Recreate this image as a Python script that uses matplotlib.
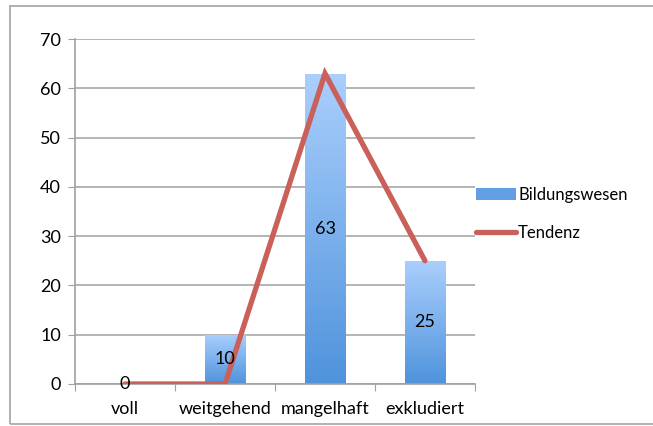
import numpy as np
import matplotlib
matplotlib.use("Agg")
from matplotlib import pyplot as plt
from matplotlib.patches import Rectangle
from matplotlib.lines import Line2D

categories = ["voll", "weitgehend", "mangelhaft", "exkludiert"]
bildungswesen = [0, 10, 63, 25]
tendenz = [0, 0, 63, 25]
yticks = [0, 10, 20, 30, 40, 50, 60, 70]

plt.rcParams['font.family'] = ['Lato', 'DejaVu Sans']

fig = plt.figure(figsize=(6.53, 4.26), dpi=100)
ax = fig.add_axes([75 / 653, 42 / 426, 400 / 653, 345 / 426])

# figure border (runs off the right edge like the original)
fig.patches.append(Rectangle((10 / 653, 2 / 426), 660 / 653, 418 / 426, transform=fig.transFigure,
                             fill=False, edgecolor="#b0b0b0", linewidth=1.4))

x = np.arange(len(categories))
bars = ax.bar(x, bildungswesen, width=0.41, color="none", zorder=2)

# vertical gradient per bar, light at the top, darker at the bottom
grad = np.linspace(0, 1, 256).reshape(-1, 1)
cmap = matplotlib.colors.LinearSegmentedColormap.from_list("g", ["#4f93dc", "#aacffd"])
for b in bars:
    h = b.get_height()
    if h <= 0:
        continue
    im = ax.imshow(grad, cmap=cmap, aspect="auto", origin="lower",
                   extent=[b.get_x(), b.get_x() + b.get_width(), 0, h], zorder=2)
    im.set_clip_path(b)

ax.plot(x, tendenz, color="#c9605a", linewidth=3.8, solid_capstyle="round",
        solid_joinstyle="miter", zorder=3)

for xi, v in zip(x, bildungswesen):
    ax.text(xi, v / 2, str(v), ha="center", va="center", fontsize=13, zorder=4)

ax.set_xlim(-0.5, 3.5)
ax.set_ylim(0, 70)
ax.set_yticks(yticks)
ax.set_xticks(np.arange(-0.5, 4, 1))
ax.set_xticklabels([])
ax.set_xticks(x, minor=True)
ax.set_xticklabels(categories, minor=True, fontsize=13)
ax.tick_params(axis="x", which="minor", length=0, pad=12)
ax.tick_params(axis="x", which="major", length=5, color="#a0a0a0", direction="out")
ax.tick_params(axis="y", length=5, color="#a0a0a0", labelsize=13, pad=5)
ax.grid(axis="y", color="#a8a8a8", linewidth=1.2, zorder=0)
ax.set_axisbelow(True)
for s in ["top", "right"]:
    ax.spines[s].set_visible(False)
for s in ["left", "bottom"]:
    ax.spines[s].set_color("#a0a0a0")
    ax.spines[s].set_linewidth(1.2)

# legend
handles = [Rectangle((0, 0), 1, 1, facecolor="#62a0e6"),
           Line2D([0], [0], color="#c9605a", linewidth=3.8, solid_capstyle="round")]
fig.legend(handles, ["Bildungswesen", "Tendenz"], loc="center left",
           bbox_to_anchor=(468 / 653, 1 - 214 / 426), frameon=False, fontsize=12,
           handlelength=2.35, handletextpad=0.15, labelspacing=1.35, borderpad=0)

fig.savefig("out.png", dpi=100)
